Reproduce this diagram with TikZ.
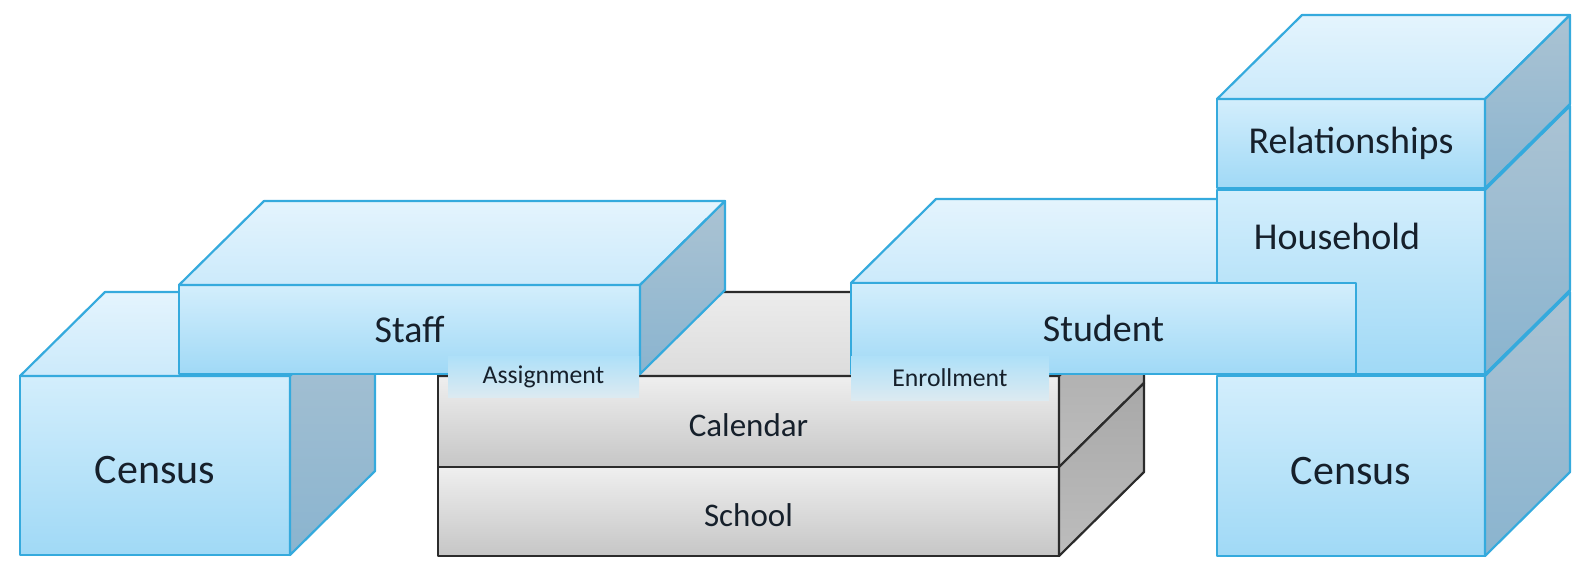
\documentclass[tikz,border=0pt]{standalone}
\usepackage{fontspec}
\setmainfont{Carlito}
\usepackage{xcolor}
\usetikzlibrary{positioning,calc,backgrounds}
\definecolor{cLine}{HTML}{35AADD}
\definecolor{cFrontT}{HTML}{D3EEFC}
\definecolor{cFrontB}{HTML}{A0D9F6}
\definecolor{cTopT}{HTML}{E4F4FD}
\definecolor{cTopB}{HTML}{CCEAFB}
\definecolor{cSideT}{HTML}{ABC3D3}
\definecolor{cSideB}{HTML}{8AB4CF}
\definecolor{gLine}{HTML}{2B2B2B}
\definecolor{gFrontT}{HTML}{EFEFEF}
\definecolor{gFrontB}{HTML}{C6C6C6}
\definecolor{gTopT}{HTML}{ECECEC}
\definecolor{gTopB}{HTML}{DCDCDC}
\definecolor{gSideT}{HTML}{A8A8A8}
\definecolor{gSideB}{HTML}{BDBDBD}
\definecolor{cTabT}{HTML}{AEE0F8}
\definecolor{cTabB}{HTML}{DCEAF1}
\definecolor{cText}{HTML}{16202B}
\tikzset{
  front/.style    = {rectangle, draw=cLine, line width=2.2pt, line join=round,
                     outer sep=0pt, inner sep=0pt, top color=cFrontT,
                     bottom color=cFrontB, text=cText,
                     font=\fontsize{38}{44}\selectfont},
  bigf/.style     = {front, text height=36pt, text depth=0pt,
                     font=\fontsize{42}{50}\selectfont},
  grey/.style     = {front, draw=gLine, top color=gFrontT, bottom color=gFrontB,
                     text height=29pt, text depth=0pt,
                     font=\fontsize{33}{40}\selectfont},
  tab/.style      = {rectangle, outer sep=0pt, inner sep=0pt, top color=cTabT,
                     bottom color=cTabB, text=cText,
                     font=\fontsize{25.7}{30}\selectfont},
  bluetop/.style  = {draw=cLine, line width=2.2pt, line join=round,
                     top color=cTopT, bottom color=cTopB},
  blueside/.style = {draw=cLine, line width=2.2pt, line join=round,
                     top color=cSideT, bottom color=cSideB},
  greytop/.style  = {bluetop, draw=gLine, top color=gTopT, bottom color=gTopB},
  greyside/.style = {blueside, draw=gLine, top color=gSideT, bottom color=gSideB},
  lbl/.style      = {text=cText, inner sep=0pt, font=\fontsize{38}{44}\selectfont},
}
% depth of every box: (85,84)
\newcommand{\topface}[2]{\draw[#1] (#2.north west) -- ++(85,84)
  -- ($(#2.north east)+(85,84)$) -- (#2.north east) -- cycle;}
\newcommand{\sideface}[2]{\draw[#1] (#2.south east) -- (#2.north east)
  -- ++(85,84) -- ($(#2.south east)+(85,84)$) -- cycle;}

\begin{document}
\begin{tikzpicture}[x=1pt,y=1pt]
  \useasboundingbox (0,0) rectangle (1586,-566);

  % ---- MIDDLE: school and calendar ----
  \node[grey, minimum width=621pt, minimum height=91pt] (calendar) at (748.5,-421.5) {Calendar};
  \node[grey, minimum width=621pt, minimum height=89pt, below=0pt of calendar] (school) {School};
  \topface{greytop}{calendar}
  \sideface{greyside}{calendar}
  \sideface{greyside}{school}

  % ---- LEFT: census and staff ----
  \node[bigf, minimum width=270pt, minimum height=179pt] (censusL) at (155,-465.5) {Census};
  \topface{bluetop}{censusL}
  \sideface{blueside}{censusL}
  \node[front, minimum width=461pt, minimum height=89pt] (staff) at (409.5,-329.5) {Staff};
  \topface{bluetop}{staff}
  \sideface{blueside}{staff}
  \node[tab, minimum width=191pt, minimum height=41pt] (assign) at (543.5,-376.5) {Assignment};

  % ---- RIGHT: census, household, relationships ----
  \node[bigf, minimum width=268pt, minimum height=180pt] (censusR) at (1351,-466) {Census};
  \sideface{blueside}{censusR}
  \node[front, minimum width=268pt, minimum height=184pt, above=2pt of censusR] (household) {};
  \node[lbl] (hhlab) at ($(household.north)+(-14,-46)$) {Household};
  \sideface{blueside}{household}
  \node[front, minimum width=268pt, minimum height=89pt, above=2pt of household] (relation) {Relationships};
  \topface{bluetop}{relation}
  \sideface{blueside}{relation}

  % ---- student runs through the household column ----
  \node[front, minimum width=505pt, minimum height=91pt] (student) at (1103.5,-328.5) {Student};
  \begin{scope}[on background layer]
    \topface{bluetop}{student}
  \end{scope}
  \node[tab, minimum width=198pt, minimum height=44pt] (enrol) at (950,-378) {Enrollment};
\end{tikzpicture}
\end{document}
